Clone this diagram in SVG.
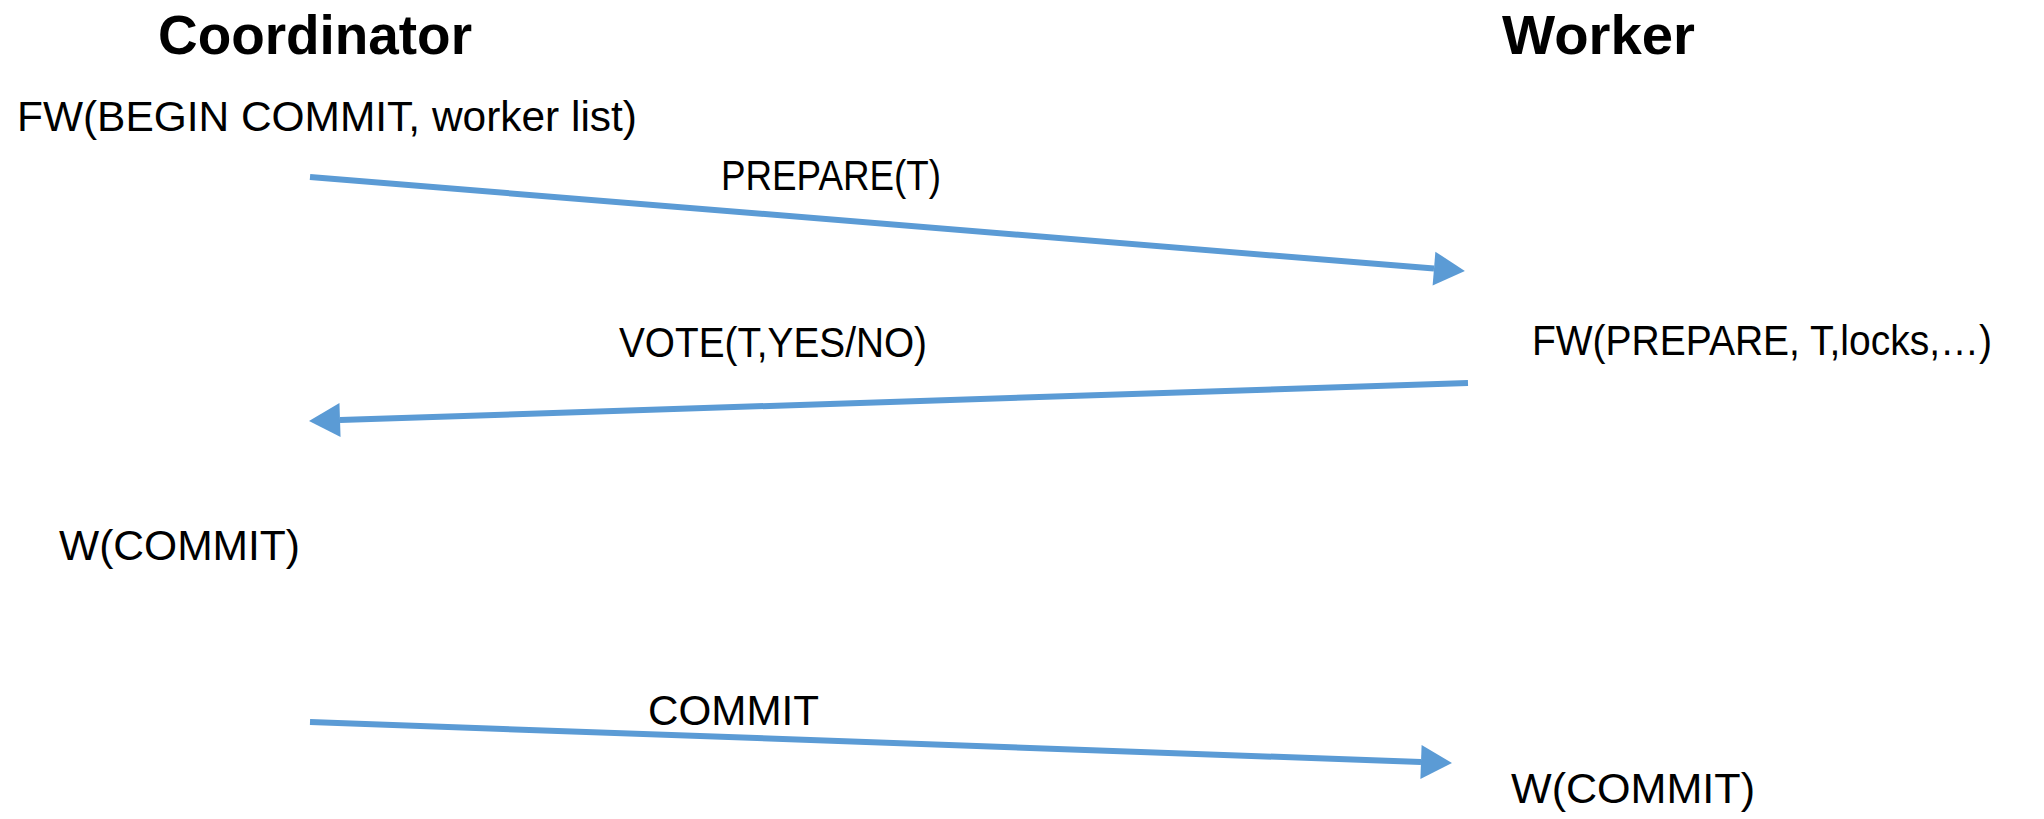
<svg xmlns="http://www.w3.org/2000/svg" width="2044" height="819" viewBox="0 0 2044 819">
<style>
.title{font-family:"Liberation Sans",Arial,sans-serif;font-weight:bold;font-size:55px;fill:#000}
.lbl{font-family:"Liberation Sans",Arial,sans-serif;font-size:43px;fill:#000}
.msg{stroke:#5B9BD5;stroke-width:6;fill:none}
</style>
<defs>
<marker id="ah" markerUnits="userSpaceOnUse" markerWidth="32" markerHeight="36" refX="0" refY="17" orient="auto" overflow="visible">
<path d="M0,0 L31,17 L0,34 Z" fill="#5B9BD5"/>
</marker>
</defs>
<g id="coordinator">
<text class="title" x="158" y="54" textLength="314" lengthAdjust="spacingAndGlyphs">Coordinator</text>
</g>
<g id="worker">
<text class="title" x="1502" y="54" textLength="193" lengthAdjust="spacingAndGlyphs">Worker</text>
</g>
<g id="fw-begin">
<text class="lbl" x="17" y="131" textLength="620" lengthAdjust="spacingAndGlyphs">FW(BEGIN COMMIT, worker list)</text>
</g>
<g id="fw-prepare">
<text class="lbl" x="1532" y="355" textLength="460" lengthAdjust="spacingAndGlyphs">FW(PREPARE, T,locks,…)</text>
</g>
<g id="w-commit-coord">
<text class="lbl" x="59" y="560" textLength="241" lengthAdjust="spacingAndGlyphs">W(COMMIT)</text>
</g>
<g id="w-commit-worker">
<text class="lbl" x="1511" y="803" textLength="244" lengthAdjust="spacingAndGlyphs">W(COMMIT)</text>
</g>
<g id="connectors">
<line class="msg" x1="310" y1="177" x2="1434" y2="268.6" marker-end="url(#ah)"/>
<text class="lbl" x="721" y="190" textLength="220" lengthAdjust="spacingAndGlyphs">PREPARE(T)</text>
<line class="msg" x1="1468" y1="383" x2="340" y2="420" marker-end="url(#ah)"/>
<text class="lbl" x="619" y="357" textLength="308" lengthAdjust="spacingAndGlyphs">VOTE(T,YES/NO)</text>
<line class="msg" x1="310" y1="722" x2="1421" y2="762" marker-end="url(#ah)"/>
<text class="lbl" x="648" y="725" textLength="171" lengthAdjust="spacingAndGlyphs">COMMIT</text>
</g>
</svg>
